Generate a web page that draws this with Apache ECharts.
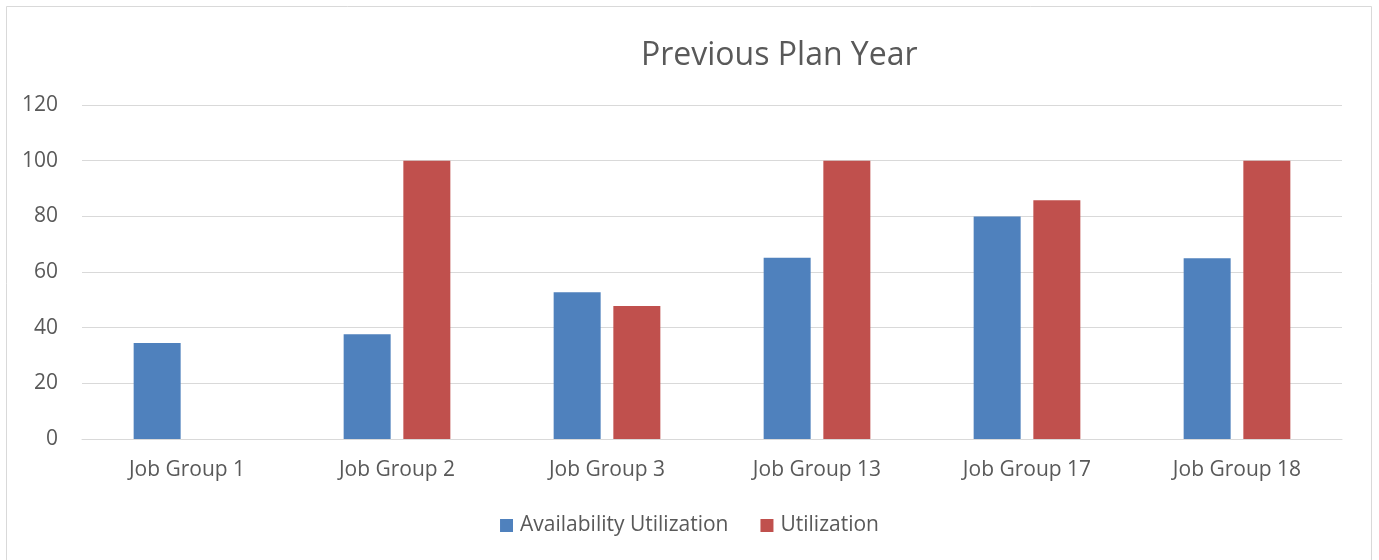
<!DOCTYPE html>
<html>
<head>
<meta charset="utf-8">
<script src="https://cdn.jsdelivr.net/npm/echarts@6/dist/echarts.min.js"></script>
<style>
html,body{margin:0;padding:0;background:#fff;}
#chart{width:1379px;height:560px;}
</style>
</head>
<body>
<div id="chart"></div>
<script>
const categories = ['Job Group 1','Job Group 2','Job Group 3','Job Group 13','Job Group 17','Job Group 18'];
const availabilityUtilization = [34.5, 37.6, 52.7, 65.1, 79.9, 64.9];
const utilization = [null, 100, 47.8, 100, 85.8, 100];
const seriesNames = ['Availability Utilization','Utilization'];
const titleText = 'Previous Plan Year';

const FONT = 'Open Sans';
const chart = echarts.init(document.getElementById('chart'), null, {renderer:'canvas'});
chart.setOption({
  animation:false,
  backgroundColor:'#fff',
  textStyle:{fontFamily:FONT},
  graphic:[{type:'rect',shape:{x:6.5,y:6.5,width:1365,height:600},style:{fill:'none',stroke:'#D9D9D9',lineWidth:1},silent:true,z:-1}],
  title:{text:titleText,left:636,top:35,textStyle:{fontFamily:FONT,fontSize:32,fontWeight:'normal',color:'#595959'}},
  legend:{
    bottom:19,left:'center',itemWidth:13,itemHeight:13,itemGap:32,icon:'rect',
    textStyle:{fontFamily:FONT,fontSize:21,color:'#595959',padding:[0,0,0,2]},
    data:seriesNames
  },
  grid:{left:82,right:37,top:105,bottom:121,containLabel:false},
  xAxis:{
    type:'category',data:categories,
    axisLine:{lineStyle:{color:'#D9D9D9',width:1}},
    axisTick:{show:false},
    axisLabel:{color:'#595959',fontSize:21,fontFamily:FONT,margin:21}
  },
  yAxis:{
    type:'value',min:0,max:120,interval:20,
    axisLine:{show:false},axisTick:{show:false},
    splitLine:{lineStyle:{color:'#D9D9D9',width:1}},
    axisLabel:{color:'#595959',fontSize:21,fontFamily:FONT,margin:24}
  },
  series:[
    {name:seriesNames[0],type:'bar',data:availabilityUtilization,barWidth:47,barGap:'27%',itemStyle:{color:'#4F81BD'}},
    {name:seriesNames[1],type:'bar',data:utilization,barWidth:47,barGap:'27%',itemStyle:{color:'#C0504D'}}
  ]
});
</script>
</body>
</html>
